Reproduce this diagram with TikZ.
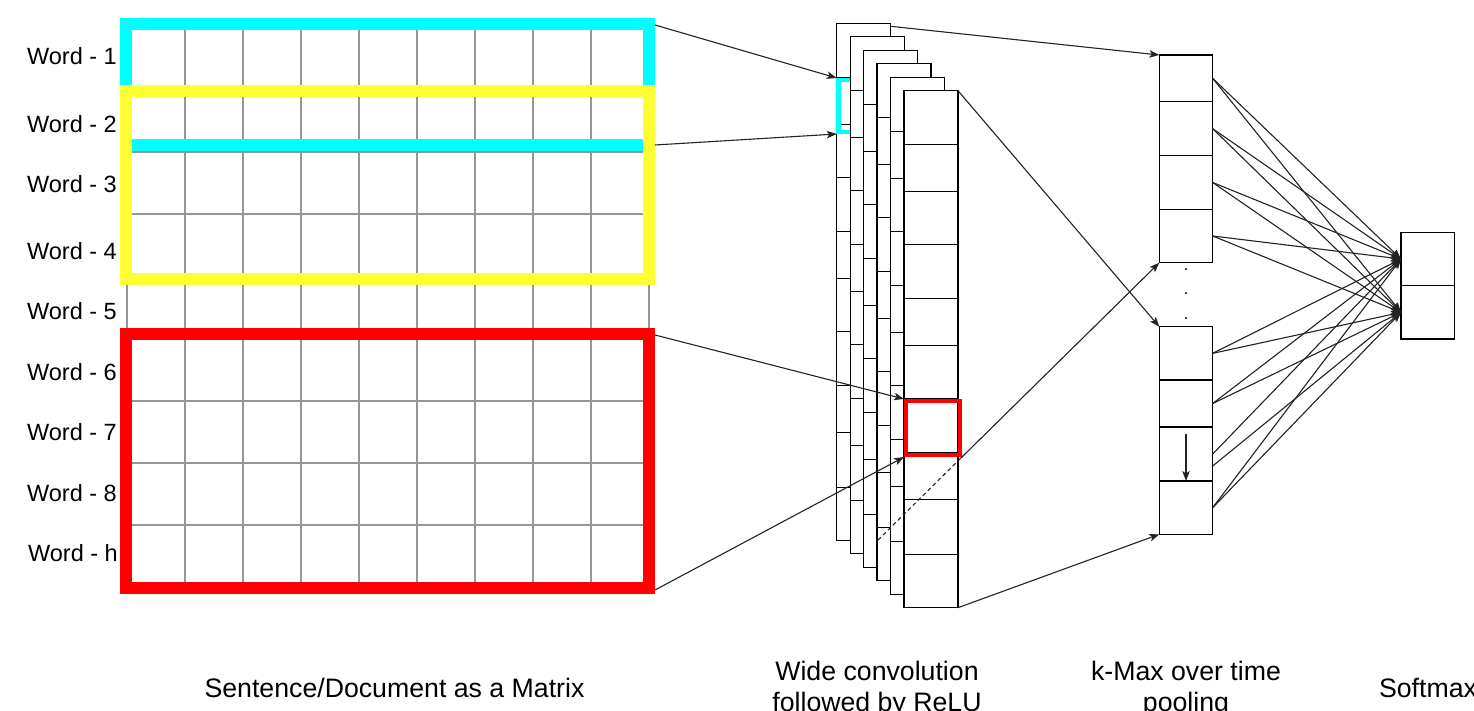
\documentclass[tikz,border=0pt]{standalone}
\usepackage{fontspec}
\setmainfont{Liberation Sans}
\usetikzlibrary{arrows.meta,calc}
\definecolor{gridgray}{RGB}{150,150,150}
\definecolor{hlcyan}{RGB}{0,255,255}
\definecolor{hlyellow}{RGB}{255,255,51}
\definecolor{hlred}{RGB}{255,0,0}
\definecolor{edgecol}{RGB}{35,35,35}
\begin{document}
\begin{tikzpicture}[x=1pt,y=-1pt,
  gridline/.style={draw=gridgray,line width=2},
  hlbox/.style={line width=12,minimum width=523,inner sep=0,fill=none},
  wordlbl/.style={anchor=east,inner sep=0,font=\fontsize{23.5}{28}\selectfont},
  caption/.style={inner sep=0,align=center,font=\fontsize{26.7}{31}\selectfont},
  layer/.style={draw=black,line width=1.3,fill=white,minimum width=54,minimum height=517,
                inner sep=0,outer sep=0,anchor=north west},
  kcell/.style={draw=black,line width=1.3,fill=white,minimum width=53.4,
                inner sep=0,outer sep=0,anchor=north west},
  smcell/.style={draw=black,line width=1.3,fill=white,minimum width=53.3,minimum height=53.4,
                inner sep=0,outer sep=0,anchor=north west},
  hlcell/.style={line width=4.5,minimum width=54,inner sep=0,outer sep=2,anchor=north west},
  arr/.style={draw=edgecol,line width=1.1,-{Stealth[length=10pt,width=7.5pt,inset=2.5pt]}},
  link/.style={draw=edgecol,line width=1.1}
]
\useasboundingbox (0,0) rectangle (1474,711);
\clip (0,0) rectangle (1474,711);
\fill[white] (0,0) rectangle (1474,711);

% ---------- word matrix ----------
\foreach \k in {1,...,8}
  \draw[gridline] (127,28+62.1*\k) -- (649,28+62.1*\k);
\foreach \j in {0,...,9}
  \draw[gridline] (127+58*\j,28) -- (127+58*\j,587);

\node[wordlbl] (w1) at (117,56)  {Word - 1};
\node[wordlbl] (w2) at (117,124) {Word - 2};
\node[wordlbl] (w3) at (117,184) {Word - 3};
\node[wordlbl] (w4) at (117,251) {Word - 4};
\node[wordlbl] (w5) at (117,311) {Word - 5};
\node[wordlbl] (w6) at (117,372) {Word - 6};
\node[wordlbl] (w7) at (117,432) {Word - 7};
\node[wordlbl] (w8) at (117,493) {Word - 8};
\node[wordlbl] (wh) at (118,553) {Word - h};

% filter windows over the matrix
\node[hlbox,draw=hlcyan,minimum height=121.3] (cyanbox) at (387.5,84.4) {};
\node[hlbox,draw=hlyellow,minimum height=188] (yellowbox) at (387.5,185) {};
\node[hlbox,draw=hlred,minimum height=254.5] (redbox) at (387.5,460.75) {};

\coordinate (cyTop) at (655,25);
\coordinate (cyBot) at (655,145);
\coordinate (rdTop) at (655,335);
\coordinate (rdBot) at (655,590);

% ---------- convolution feature maps ----------
\foreach \i in {0,...,5}{
  \pgfmathsetmacro\lx{836.7+13.46*\i}
  \pgfmathsetmacro\ly{23.3+13.48*\i}
  \node[layer] (L\i) at (\lx,\ly) {};
  \foreach \o in {54,101,154,208,255,308,362,409,464}
    \draw[line width=1.3] (\lx,\ly+\o) -- ++(54,0);
  \ifnum\i=0
    \node[hlcell,draw=hlcyan,minimum height=52] (convcyan) at (836.7,78) {};
  \fi
}
\node[hlcell,draw=hlred,minimum height=54] (convred) at (904,399) {};

% ---------- k-max pooling ----------
\node[kcell,minimum height=46.7] (k1c1) at (1159.3,55) {};
\node[kcell,minimum height=54]   (k1c2) at (1159.3,101.7) {};
\node[kcell,minimum height=53.6] (k1c3) at (1159.3,155.7) {};
\node[kcell,minimum height=53.4] (k1c4) at (1159.3,209.3) {};
\node[kcell,minimum height=53.3] (k2c1) at (1159.3,326.7) {};
\node[kcell,minimum height=47]   (k2c2) at (1159.3,380) {};
\node[kcell,minimum height=54]   (k2c3) at (1159.3,427) {};
\node[kcell,minimum height=53.3] (k2c4) at (1159.3,481) {};
\foreach \y in {269,293,318} \fill (1186,\y) circle (1.2);
\draw[arr] ($(k2c3.north)+(0,7)$) -- (k2c3.south);

% ---------- softmax ----------
\node[smcell] (s1) at (1401,232.3) {};
\node[smcell] (s2) at (1401,285.7) {};

% ---------- connectors ----------
\draw[arr] (cyTop) -- (convcyan.north west);
\draw[arr] (cyBot) -- (convcyan.south west);
\draw[arr] (rdTop) -- (convred.north west);
\draw[arr] (rdBot) -- (convred.south west);

\coordinate (dstart) at (878,540);
\coordinate (dbend) at (957.9,461);
\draw[link,dashed,dash pattern=on 4pt off 3pt] (dstart) -- (dbend);
\draw[arr] ([yshift=-3pt]L0.north east) -- (k1c1.north west);
\draw[arr] (L5.north east) -- (k2c1.north west);
\draw[arr] (dbend) -- (k1c4.south west);
\draw[arr] (L5.south east) -- (k2c4.south west);

\foreach \c in {k1c1,k1c2,k1c3,k1c4,k2c1,k2c2,k2c4}{
  \draw[arr] (\c.east) -- (s1.west);
  \draw[arr] (\c.east) -- (s2.west);
}
\draw[arr] (k2c3.east) -- (s1.west);
\draw[arr] ([yshift=-12pt]k2c3.east) -- (s2.west);

% ---------- captions ----------
\node[caption] (capM) at (394.5,688) {Sentence/Document as a Matrix};
\node[caption] (capC) at (877,689) {Wide convolution\\followed by ReLU};
\node[caption] (capK) at (1186,689) {k-Max over time\\pooling};
\node[caption] (capS) at (1428,688) {Softmax};
\end{tikzpicture}
\end{document}
